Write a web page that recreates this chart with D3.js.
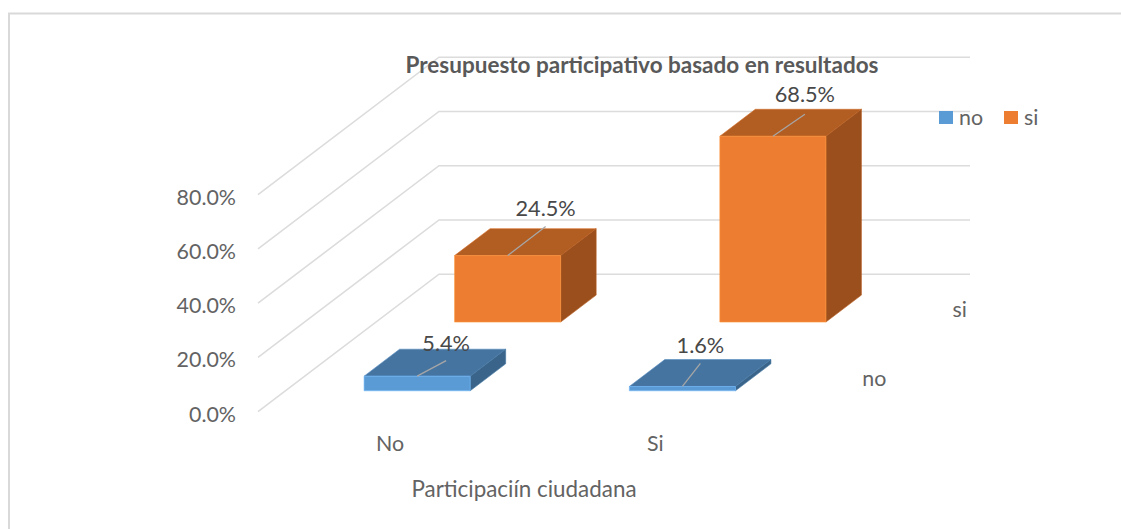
<!DOCTYPE html>
<html><head><meta charset="utf-8">
<script src="https://cdn.jsdelivr.net/npm/d3@7"></script>
<style>html,body{margin:0;background:#fff}svg{display:block}text{font-family:Lato,sans-serif}</style>
</head><body><svg id="c" width="1121" height="529"></svg>
<script>
const categories = ["No", "Si"];
const seriesNames = ["no", "si"];
const valuesNo = [5.4, 1.6];
const valuesSi = [24.5, 68.5];
const tickValues = [0, 20, 40, 60, 80];
const chartTitle = "Presupuesto participativo basado en resultados";
const axisTitle = "Participaciín ciudadana";
const seriesColors = {no:{front:"#5b9bd5",top:"#4674a0",side:"#3a6489"},si:{front:"#ed7d31",top:"#b25d22",side:"#9a4f1c"}};

const svg = d3.select("#c");
const W=1121,H=529;
// oblique projection: category along x, value up, depth into the page
const floor = {y:411.7}, depthVec = {x:181,y:-137.5};
const xScale = d3.scaleBand().domain(categories).range([257,787.5]).paddingInner(0.6).paddingOuter(0.3);
const yScale = d3.scaleLinear().domain([0,80]).range([0,217]);
const dScale = d3.scaleBand().domain(seriesNames).range([0,1]).paddingInner(0.608).paddingOuter(0.304);
const P=(x,v,d)=>[x+d*depthVec.x, floor.y-yScale(v)+d*depthVec.y];
const poly=(pts,fill)=>svg.append("polygon").attr("points",pts.map(p=>p.join(",")).join(" ")).attr("fill",fill).attr("stroke",d3.color(fill).brighter(0.5)).attr("stroke-width",0.6);
const txt=(x,y,s,size,fill,anchor="middle",weight=400)=>svg.append("text").attr("x",x).attr("y",y).attr("text-anchor",anchor).attr("font-size",size).attr("fill",fill).attr("font-weight",weight).text(s);

// frame
svg.append("path").attr("d",`M9,${H}V13.5H${W}`).attr("fill","none").attr("stroke","#d9d9d9").attr("stroke-width",2);

// gridlines
tickValues.forEach(t=>{
  const a=P(258,t,0), b=P(258,t,1), c=P(789,t,1);
  svg.append("polyline").attr("points",[a,b,c].map(p=>p.join(",")).join(" ")).attr("fill","none").attr("stroke","#dcdcdc").attr("stroke-width",1.6);
  txt(236,a[1]+10,d3.format(".1f")(t)+"%",21.4,"#636363","end");
});

// bars
const labelOffsets = {no:[[29,-15.5,-10],[18,-23,-10]], si:[[38,-29,-11],[32,-22,-12]]};
const allValues={no:valuesNo,si:valuesSi};
["si","no"].forEach(s=>{
  categories.forEach((c,i)=>{
    const v=allValues[s][i], x0=xScale(c), x1=x0+xScale.bandwidth(), d0=dScale(s), d1=d0+dScale.bandwidth(), col=seriesColors[s];
    poly([P(x0,v,d0),P(x1,v,d0),P(x1,v,d1),P(x0,v,d1)],col.top);
    poly([P(x1,0,d0),P(x1,0,d1),P(x1,v,d1),P(x1,v,d0)],col.side);
    poly([P(x0,0,d0),P(x1,0,d0),P(x1,v,d0),P(x0,v,d0)],col.front);
  });
});
// data labels and leader lines on top
["si","no"].forEach(s=>{
  categories.forEach((c,i)=>{
    const v=allValues[s][i], xm=xScale(c)+xScale.bandwidth()/2, p=P(xm,v,dScale(s)), o=labelOffsets[s][i];
    svg.append("line").attr("x1",p[0]).attr("y1",p[1]).attr("x2",p[0]+o[0]).attr("y2",p[1]+o[1]).attr("stroke","#a6a6a6").attr("stroke-width",1.3);
    txt(p[0]+o[0],p[1]+o[1]+o[2],d3.format(".1f")(v)+"%",21.7,"#484848");
  });
});

// category labels
categories.forEach(c=>txt(xScale(c)+xScale.bandwidth()/2+0.5,451,c,21.4,"#636363"));
txt(524,497,axisTitle,22.4,"#636363");
txt(642,73,chartTitle,22.5,"#595959","middle",700);
// series (depth) labels
const depthLabelOffset=[[40,9],[35,8]];
seriesNames.forEach((s,i)=>{
  const p=P(789,0,dScale(s)+dScale.bandwidth()/2);
  txt(p[0]+depthLabelOffset[i][0],p[1]+depthLabelOffset[i][1],s,21.4,"#636363");
});
// legend
const legendX=[939,1004];
seriesNames.forEach((s,i)=>{
  svg.append("rect").attr("x",legendX[i]).attr("y",111).attr("width",14).attr("height",13).attr("fill",seriesColors[s].front);
  txt(legendX[i]+20,125,s,21.4,"#636363","start");
});
</script></body></html>
